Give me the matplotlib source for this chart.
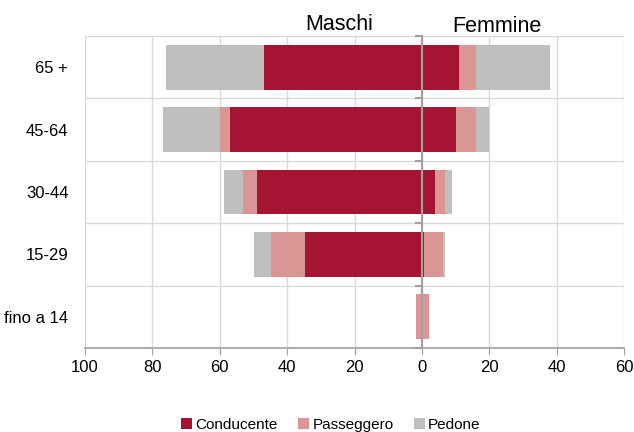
import numpy as np
import matplotlib.pyplot as plt

plt.rcParams['font.family'] = ['Liberation Sans', 'DejaVu Sans']

# age groups, top to bottom
categories = ['65 +', '45-64', '30-44', '15-29', 'fino a 14']
series = ['Conducente', 'Passeggero', 'Pedone']
colors = ['#A51433', '#D99694', '#BFBFBF']

# Maschi (drawn to the left)
maschi_cond = [46.8, 56.9, 48.9, 34.7, 0.0]
maschi_pass = [0.0, 3.1, 4.1, 10.2, 1.8]
maschi_ped = [29.2, 16.9, 5.8, 5.0, 0.0]

# Femmine (drawn to the right)
femmine_cond = [11.0, 10.0, 3.9, 0.7, 0.0]
femmine_pass = [5.1, 6.1, 3.1, 5.5, 2.2]
femmine_ped = [22.0, 3.9, 2.0, 0.8, 0.0]

xticks = [-100, -80, -60, -40, -20, 0, 20, 40, 60]

fig = plt.figure(figsize=(6.34, 4.32), dpi=100)
ax = fig.add_axes([85 / 634, 1 - 348 / 432, 539 / 634, 312 / 432])

y = np.arange(len(categories))
h = 0.72
m_data = [maschi_cond, maschi_pass, maschi_ped]
f_data = [femmine_cond, femmine_pass, femmine_ped]

left_m = np.zeros(len(categories))
left_f = np.zeros(len(categories))
for i, name in enumerate(series):
    mv = np.array(m_data[i])
    fv = np.array(f_data[i])
    ax.barh(y, -mv, left=-left_m, height=h, color=colors[i], label=name, zorder=3)
    ax.barh(y, fv, left=left_f, height=h, color=colors[i], zorder=3)
    left_m += mv
    left_f += fv

ax.set_xlim(-100, 60)
ax.set_ylim(len(categories) - 0.5, -0.5)
ax.set_xticks(xticks)
ax.set_xticklabels([str(abs(t)) for t in xticks], fontsize=12)
ax.set_yticks(y)
ax.set_yticklabels(categories, fontsize=12)
ax.tick_params(axis='y', length=0, pad=12)
ax.tick_params(axis='x', length=5, color='#A0A0A0', direction='out', pad=4)

# grid
for b in np.arange(-0.5, len(categories), 1.0):
    ax.axhline(b, color='#D9D9D9', lw=1, zorder=1)
for t in xticks:
    ax.axvline(t, color='#D9D9D9', lw=1, zorder=1)

for s in ['top', 'right', 'left']:
    ax.spines[s].set_visible(False)
ax.spines['bottom'].set_color('#A0A0A0')
ax.spines['bottom'].set_linewidth(1.2)

# zero axis with small ticks
ax.axvline(0, color='#A0A0A0', lw=1.5, zorder=4)
for b in np.arange(-0.5, len(categories), 1.0):
    ax.plot([-1.6, 0], [b, b], color='#A0A0A0', lw=1.5, zorder=4, clip_on=False)

fig.text(339 / 634, 1 - 30 / 432, 'Maschi', fontsize=15.5, ha='center', va='baseline')
fig.text(497 / 634, 1 - 32 / 432, 'Femmine', fontsize=15.5, ha='center', va='baseline')

fig.legend(loc='center', bbox_to_anchor=(331 / 634, 0.017), ncol=3, frameon=False,
           fontsize=11, handlelength=0.72, handleheight=0.72, handletextpad=0.2,
           columnspacing=1.35)

fig.savefig('out.png', dpi=100)
